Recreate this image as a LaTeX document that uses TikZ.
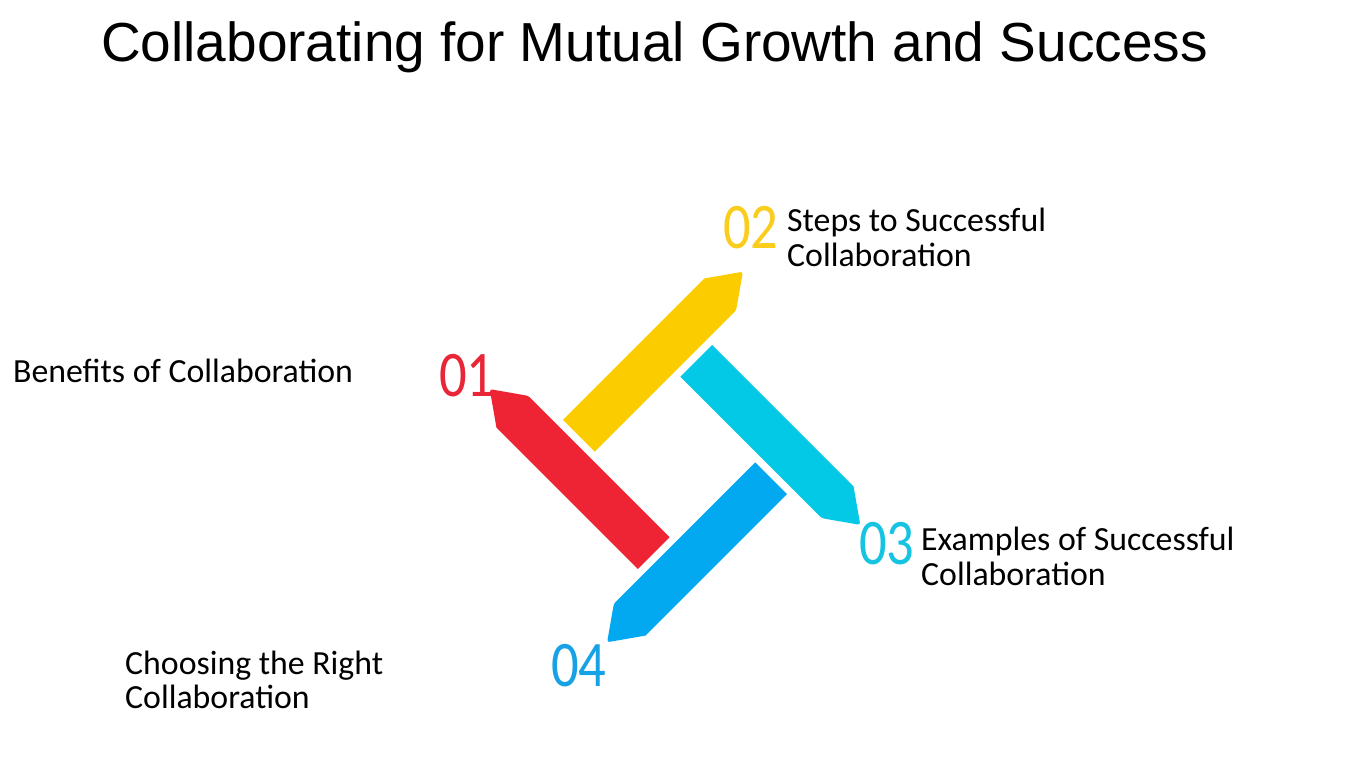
\documentclass[tikz,border=0pt]{standalone}
\usepackage{fontspec}
\setmainfont{Carlito}
\newfontfamily\titlefont{Liberation Sans}
\newfontfamily\numfont[FakeStretch=0.84]{Carlito}
\definecolor{cRed}{RGB}{238,35,52}
\definecolor{cYellow}{RGB}{251,205,0}
\definecolor{cCyan}{RGB}{3,200,230}
\definecolor{cBlue}{RGB}{3,169,240}
\definecolor{nRed}{RGB}{232,38,55}
\definecolor{nYellow}{RGB}{250,204,28}
\definecolor{nCyan}{RGB}{22,196,226}
\definecolor{nBlue}{RGB}{22,162,228}
\tikzset{
  titletext/.style={inner sep=0pt, anchor=base west, font=\titlefont\fontsize{55}{60}\selectfont},
  labeltext/.style={inner sep=0pt, anchor=base west, font=\fontsize{33.8}{35}\selectfont},
  numtext/.style={inner sep=0pt, anchor=base west, font=\numfont\fontsize{65}{65}\selectfont},
}
\newcommand\pinbar[2]{%
  \begin{scope}[shift={(675,457)},rotate=#1]
    \fill[#2] (-105.5,53) -- (-105.5,-147) [rounded corners=2.5pt] -- (-83,-179) -- (-60.5,-147) [sharp corners] -- (-60.5,53) -- cycle;
  \end{scope}}
\begin{document}
\begin{tikzpicture}[x=1pt,y=-1pt]
\useasboundingbox[fill=white] (0,0) rectangle (1350,759);
\node[titletext] (title) at (101,62) {Collaborating for Mutual Growth and Success};
% pinwheel bars
\pinbar{45}{cRed}
\pinbar{-45}{cYellow}
\pinbar{-135}{cCyan}
\pinbar{135}{cBlue}
% numbers
\node[numtext, text=nRed] (n1) at (439,396) {01};
\node[numtext, text=nYellow] (n2) at (723,249) {02};
\node[numtext, text=nCyan] (n3) at (859,564) {03};
\node[numtext, text=nBlue] (n4) at (551,686) {04};
% labels
\node[labeltext] (l1) at (13,382) {Benefits of Collaboration};
\node[labeltext] (l2a) at (787,232) {Steps to Successful};
\node[labeltext] (l2b) at (787,267) {Collaboration};
\node[labeltext] (l3a) at (921,550) {Examples of Successful};
\node[labeltext] (l3b) at (921,585) {Collaboration};
\node[labeltext] (l4a) at (125,674) {Choosing the Right};
\node[labeltext] (l4b) at (125,708) {Collaboration};
\end{tikzpicture}
\end{document}
